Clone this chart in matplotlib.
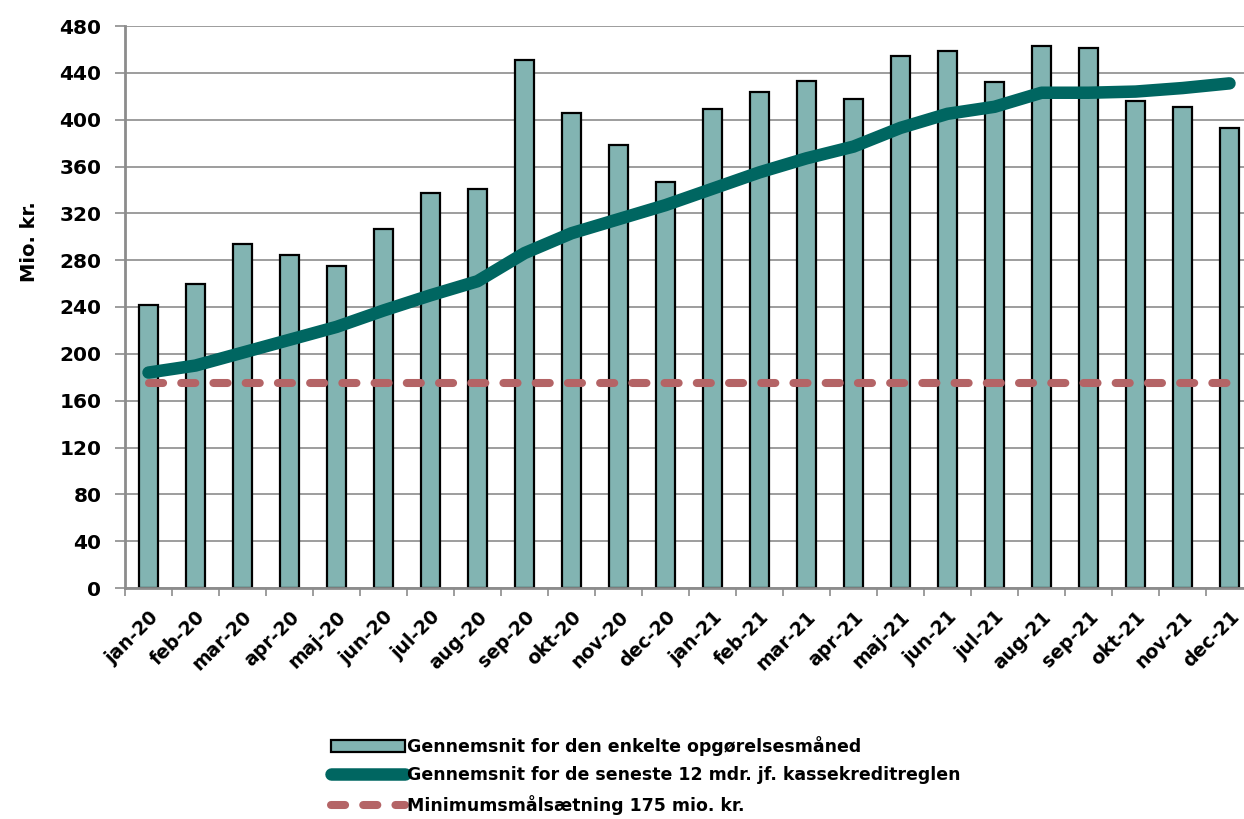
import numpy as np
import matplotlib
matplotlib.use("Agg")
import matplotlib.pyplot as plt

months = ["jan-20", "feb-20", "mar-20", "apr-20", "maj-20", "jun-20",
          "jul-20", "aug-20", "sep-20", "okt-20", "nov-20", "dec-20",
          "jan-21", "feb-21", "mar-21", "apr-21", "maj-21", "jun-21",
          "jul-21", "aug-21", "sep-21", "okt-21", "nov-21", "dec-21"]
monthly_avg = [242, 260, 294, 284, 275, 307, 337, 341, 451, 406, 378, 347,
               409, 424, 433, 418, 454, 459, 432, 463, 461, 416, 411, 393]
rolling_12m = [184, 190, 201, 212, 223, 237, 250, 262, 286, 303, 315, 327,
               341, 355, 367, 377, 393, 405, 411, 423, 423, 424, 427, 431]
minimum_target = 175

bar_color = "#82b4b2"
line_color = "#006661"
dash_color = "#b46466"
grid_color = "#8c8c8c"

plt.rcParams["font.family"] = ["DejaVu Sans"]
plt.rcParams["font.weight"] = "bold"

fig = plt.figure(figsize=(12.44, 8.19), dpi=100)
ax = fig.add_axes([125 / 1244, 1 - 588 / 819, 1128 / 1244, 562 / 819])

x = np.arange(len(months))
bars = ax.bar(x, monthly_avg, width=0.42, color=bar_color, edgecolor="black",
              linewidth=1.6, zorder=2)
line12, = ax.plot(x, rolling_12m, color=line_color, linewidth=9,
                  solid_capstyle="round", solid_joinstyle="round", zorder=3)
target, = ax.plot(x, [minimum_target] * len(x), color=dash_color,
                  linewidth=5.8, dashes=(1.75, 2.25), dash_capstyle="round",
                  zorder=3)

ax.set_xlim(-0.5, len(months) - 0.5)
ax.set_ylim(0, 480)
ax.set_yticks(np.arange(0, 481, 40))
ax.yaxis.grid(True, color=grid_color, linewidth=1.2, zorder=0)
ax.set_axisbelow(True)

ax.set_xticks(x)
ax.set_xticklabels(months, rotation=45, ha="right", rotation_mode="anchor",
                   fontsize=13.5, fontweight="bold")
ax.set_xticks(np.arange(-0.5, len(months), 1), minor=True)
ax.tick_params(axis="x", which="major", length=0, pad=14)
ax.tick_params(axis="x", which="minor", length=6, color=grid_color, width=1.2)
ax.tick_params(axis="y", length=7, color=grid_color, width=1.2,
               labelsize=14.5, pad=10)
for lab in ax.get_yticklabels():
    lab.set_fontweight("bold")

for side in ["top", "right"]:
    ax.spines[side].set_visible(False)
for side in ["left", "bottom"]:
    ax.spines[side].set_color(grid_color)
    ax.spines[side].set_linewidth(2)

fig.text(30 / 1244, 1 - 242 / 819, "Mio. kr.", rotation=90, ha="center",
         va="center", fontsize=14, fontweight="bold")

fig.legend([bars, line12, target],
           ["Gennemsnit for den enkelte opgørelsesmåned",
            "Gennemsnit for de seneste 12 mdr. jf. kassekreditreglen",
            "Minimumsmålsætning 175 mio. kr."],
           loc="upper left", bbox_to_anchor=(322 / 1244, 1 - 727 / 819),
           frameon=False, fontsize=12.5, handlelength=4.3,
           handletextpad=0.1, labelspacing=0.62, borderpad=0)

fig.savefig("out.png", dpi=100)
